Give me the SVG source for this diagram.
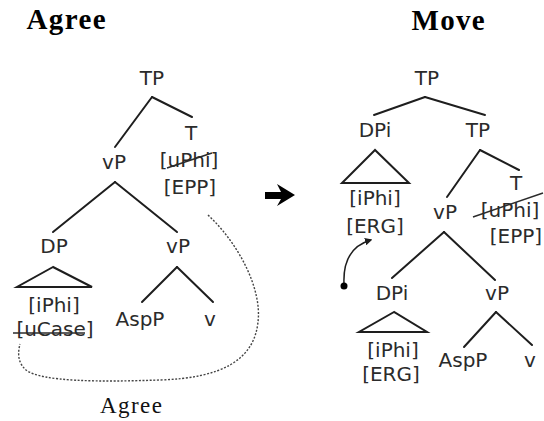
<svg xmlns="http://www.w3.org/2000/svg" width="544" height="421" viewBox="0 0 544 421">
<defs>
<style>
.n{font-family:"DejaVu Sans","Liberation Sans",sans-serif;font-size:20px;fill:#2b2b2b;text-anchor:middle}
.title{font-family:"Liberation Serif",serif;font-size:29px;font-weight:bold;fill:#000;text-anchor:middle}
.lab{font-family:"Liberation Serif",serif;font-size:23px;fill:#111;text-anchor:middle}
.e{stroke:#1e1e1e;stroke-width:2;fill:none;stroke-linecap:round}
.tri{stroke:#1e1e1e;stroke-width:2;fill:none;stroke-linejoin:miter}
.strike{stroke:#2b2b2b;stroke-width:1.5;fill:none}
.dot{stroke:#444;stroke-width:1.4;fill:none;stroke-dasharray:2 1.6}
</style>
<marker id="ah" viewBox="0 0 10 10" refX="8" refY="5" markerWidth="5" markerHeight="5" orient="auto" markerUnits="strokeWidth">
<path d="M0,0 L10,5 L0,10 Z" fill="#1e1e1e"/>
</marker>
</defs>
<rect width="544" height="421" fill="#fff"/>

<text class="title" x="66" y="29" textLength="79">Agree</text>
<text class="title" x="448" y="30" textLength="73">Move</text>

<g id="connectors">
<!-- left tree -->
<line class="e" x1="152" y1="97" x2="115" y2="147"/>
<line class="e" x1="152" y1="97" x2="192" y2="117"/>
<line class="e" x1="115" y1="182" x2="53" y2="232"/>
<line class="e" x1="115" y1="182" x2="177" y2="232"/>
<line class="e" x1="177" y1="267" x2="142" y2="302"/>
<line class="e" x1="177" y1="267" x2="213" y2="302"/>
<path class="dot" d="M208,215 C240,245 262,290 258,322 C254,360 222,378 160,380 C100,382 42,382 26,370 C17,362 18,352 20,344"/>
<!-- right tree -->
<line class="e" x1="425" y1="97" x2="374" y2="115"/>
<line class="e" x1="425" y1="97" x2="485" y2="115"/>
<line class="e" x1="480" y1="150" x2="447" y2="197"/>
<line class="e" x1="480" y1="150" x2="519" y2="170"/>
<line class="e" x1="444" y1="232" x2="392" y2="278"/>
<line class="e" x1="444" y1="232" x2="495" y2="280"/>
<line class="e" x1="496" y1="312" x2="464" y2="347"/>
<line class="e" x1="496" y1="312" x2="532" y2="345"/>
<path d="M344,284 C343,262 350,246 371,240" stroke="#1e1e1e" stroke-width="1.5" fill="none" marker-end="url(#ah)"/>
<circle cx="344" cy="286" r="3.5" fill="#000"/>
</g>

<path id="arrow" d="M265,192 L281,192 L277,184 L295,195 L277,206 L281,199 L265,199 Z" fill="#000"/>

<g id="L-TP"><text class="n" x="152" y="85">TP</text></g>
<g id="L-T"><text class="n" x="191" y="140">T</text>
<text class="n" x="189" y="167">[uPhi]</text>
<line class="strike" x1="167" y1="168" x2="212" y2="153"/>
<text class="n" x="190" y="194">[EPP]</text></g>
<g id="L-vP"><text class="n" x="114" y="169">vP</text></g>
<g id="L-DP"><text class="n" x="54" y="253">DP</text>
<path class="tri" d="M53,267 L17,287 L92,287 Z"/>
<text class="n" x="54" y="312">[iPhi]</text>
<text class="n" x="55" y="336">[uCase]</text>
<line class="strike" x1="13" y1="333" x2="85" y2="333"/></g>
<g id="L-vP2"><text class="n" x="178" y="253">vP</text></g>
<g id="L-AspP"><text class="n" x="140" y="326">AspP</text></g>
<g id="L-v"><text class="n" x="210" y="326">v</text></g>
<g id="agree-label"><text class="lab" x="131" y="413" textLength="62">Agree</text></g>

<g id="R-TP"><text class="n" x="427" y="85">TP</text></g>
<g id="R-DPi"><text class="n" x="375" y="137">DPi</text>
<path class="tri" d="M375,150 L342,183 L409,183 Z"/>
<text class="n" x="375" y="205">[iPhi]</text>
<text class="n" x="375" y="233">[ERG]</text></g>
<g id="R-TP2"><text class="n" x="478" y="137">TP</text></g>
<g id="R-T"><text class="n" x="516" y="190">T</text>
<text class="n" x="510" y="217">[uPhi]</text>
<line class="strike" x1="473" y1="217" x2="543" y2="193"/>
<text class="n" x="516" y="243">[EPP]</text></g>
<g id="R-vP"><text class="n" x="445" y="219">vP</text></g>
<g id="R-DPi2"><text class="n" x="392" y="300">DPi</text>
<path class="tri" d="M394,312 L359,332 L427,332 Z"/>
<text class="n" x="393" y="357">[iPhi]</text>
<text class="n" x="391" y="381">[ERG]</text></g>
<g id="R-vP2"><text class="n" x="497" y="300">vP</text></g>
<g id="R-AspP"><text class="n" x="463" y="367">AspP</text></g>
<g id="R-v"><text class="n" x="530" y="367">v</text></g>
</svg>
